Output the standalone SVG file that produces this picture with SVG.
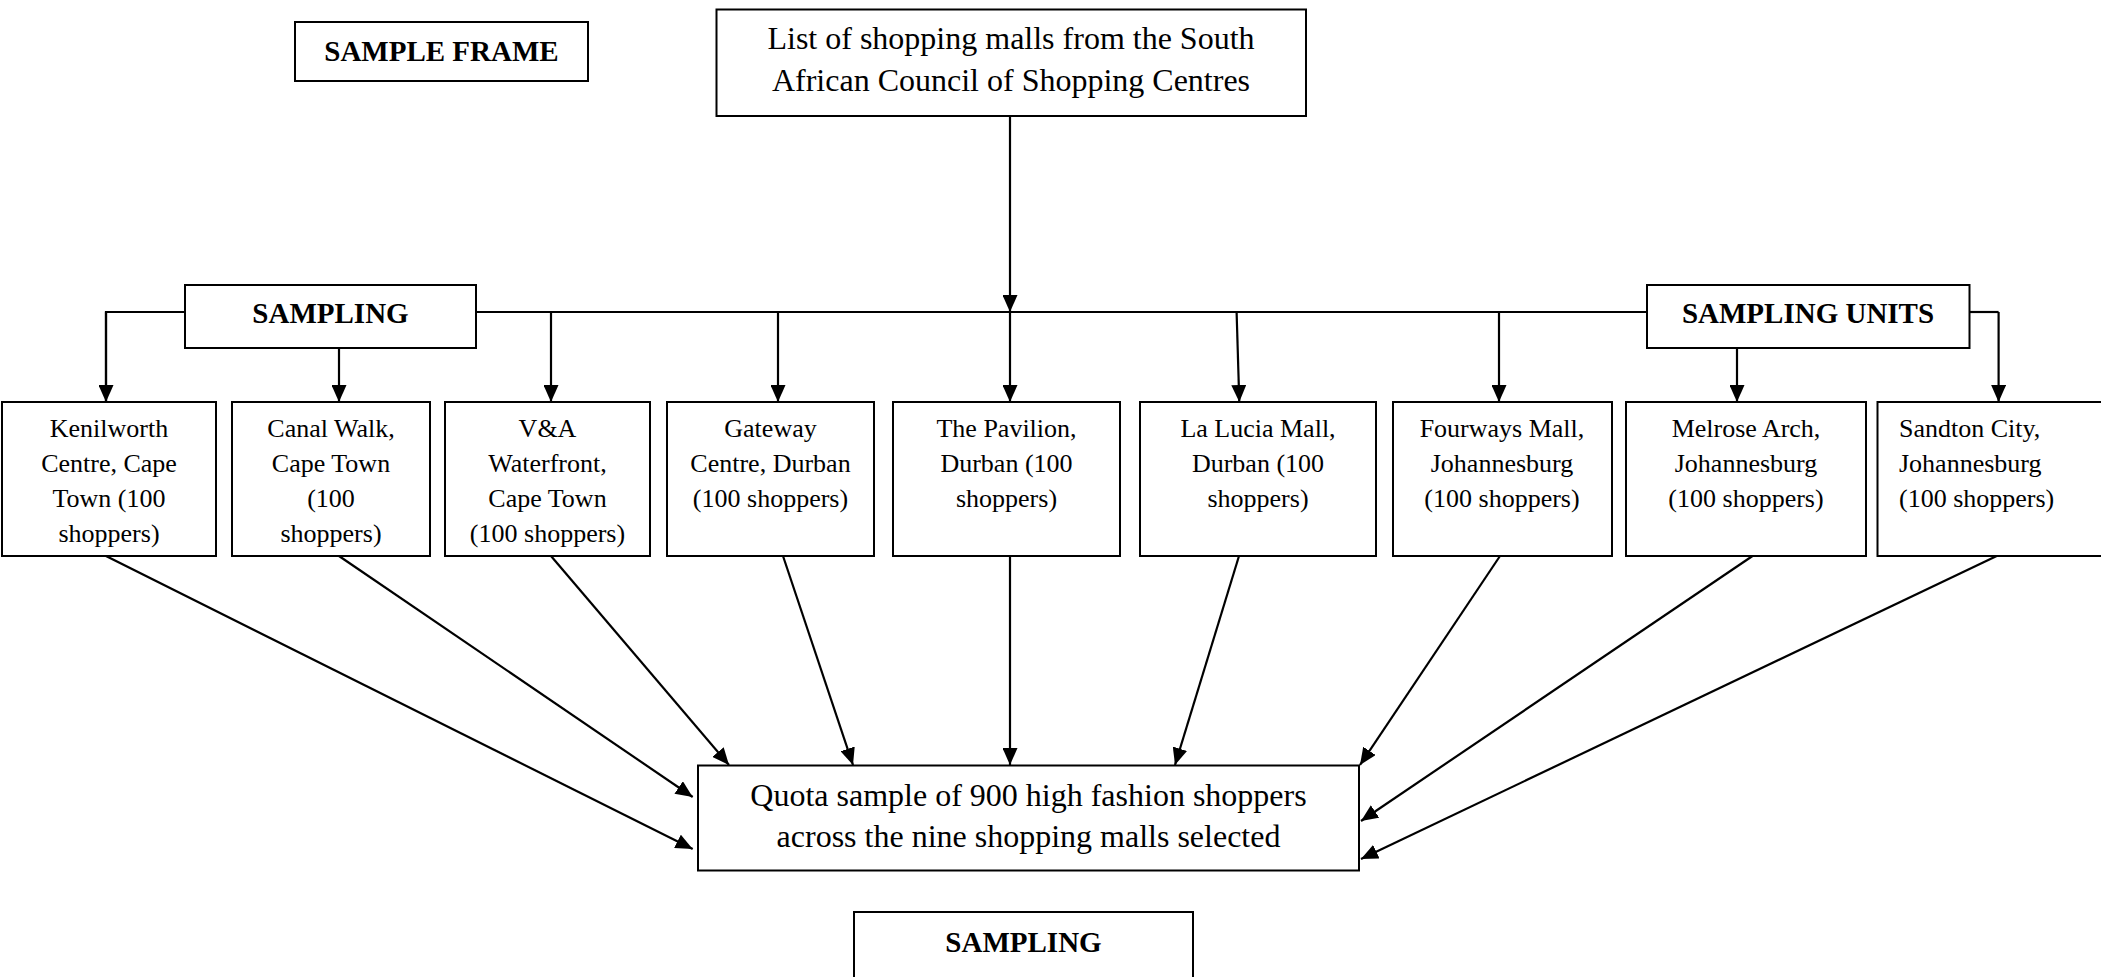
<svg xmlns="http://www.w3.org/2000/svg" width="2101" height="977" viewBox="0 0 2101 977">
<style>
.box{fill:#fff;stroke:#000;stroke-width:2}
.t{font-family:"Liberation Serif","Times New Roman",serif;fill:#000;text-anchor:middle}
.n{font-size:26px}
.big{font-size:32px}
.b{font-size:29px;font-weight:bold}
.c{fill:none;stroke:#000;stroke-width:2.2}
</style>
<defs>
<marker id="ah" markerUnits="userSpaceOnUse" markerWidth="18" markerHeight="15" refX="17" refY="7.5" orient="auto">
<path d="M0,0 L17,7.5 L0,15 z" fill="#000"/>
</marker>
</defs>
<rect width="2101" height="977" fill="#fff"/>

<g id="sample-frame">
<rect class="box" x="295" y="22" width="293" height="59"/>
<text class="t b" x="441.5" y="61">SAMPLE FRAME</text>
</g>
<g id="list">
<rect class="box" x="716.5" y="9.5" width="589.5" height="106.5"/>
<text class="t big" x="1011" y="49">List of shopping malls from the South</text>
<text class="t big" x="1011" y="91">African Council of Shopping Centres</text>
</g>
<g id="sampling-label">
<rect class="box" x="185" y="285" width="291" height="63"/>
<text class="t b" x="330.5" y="323">SAMPLING</text>
</g>
<g id="sampling-units-label">
<rect class="box" x="1647" y="285" width="322.5" height="63"/>
<text class="t b" x="1808" y="323">SAMPLING UNITS</text>
</g>

<g id="kenilworth">
<rect class="box" x="2" y="402" width="214" height="154"/>
<text class="t n" x="109" y="437">Kenilworth</text>
<text class="t n" x="109" y="472">Centre, Cape</text>
<text class="t n" x="109" y="507">Town (100</text>
<text class="t n" x="109" y="542">shoppers)</text>
</g>
<g id="canal-walk">
<rect class="box" x="232" y="402" width="198" height="154"/>
<text class="t n" x="331" y="437">Canal Walk,</text>
<text class="t n" x="331" y="472">Cape Town</text>
<text class="t n" x="331" y="507">(100</text>
<text class="t n" x="331" y="542">shoppers)</text>
</g>
<g id="va-waterfront">
<rect class="box" x="445" y="402" width="205" height="154"/>
<text class="t n" x="547.5" y="437">V&amp;A</text>
<text class="t n" x="547.5" y="472">Waterfront,</text>
<text class="t n" x="547.5" y="507">Cape Town</text>
<text class="t n" x="547.5" y="542">(100 shoppers)</text>
</g>
<g id="gateway">
<rect class="box" x="667" y="402" width="207" height="154"/>
<text class="t n" x="770.5" y="437">Gateway</text>
<text class="t n" x="770.5" y="472">Centre, Durban</text>
<text class="t n" x="770.5" y="507">(100 shoppers)</text>
</g>
<g id="pavilion">
<rect class="box" x="893" y="402" width="227" height="154"/>
<text class="t n" x="1006.5" y="437">The Pavilion,</text>
<text class="t n" x="1006.5" y="472">Durban (100</text>
<text class="t n" x="1006.5" y="507">shoppers)</text>
</g>
<g id="la-lucia">
<rect class="box" x="1140" y="402" width="236" height="154"/>
<text class="t n" x="1258" y="437">La Lucia Mall,</text>
<text class="t n" x="1258" y="472">Durban (100</text>
<text class="t n" x="1258" y="507">shoppers)</text>
</g>
<g id="fourways">
<rect class="box" x="1393" y="402" width="219" height="154"/>
<text class="t n" x="1502" y="437">Fourways Mall,</text>
<text class="t n" x="1502" y="472">Johannesburg</text>
<text class="t n" x="1502" y="507">(100 shoppers)</text>
</g>
<g id="melrose">
<rect class="box" x="1626" y="402" width="240" height="154"/>
<text class="t n" x="1746" y="437">Melrose Arch,</text>
<text class="t n" x="1746" y="472">Johannesburg</text>
<text class="t n" x="1746" y="507">(100 shoppers)</text>
</g>
<g id="sandton">
<rect class="box" x="1877.5" y="402" width="240" height="154"/>
<text class="t n" x="1899" y="437" style="text-anchor:start">Sandton City,</text>
<text class="t n" x="1899" y="472" style="text-anchor:start">Johannesburg</text>
<text class="t n" x="1899" y="507" style="text-anchor:start">(100 shoppers)</text>
</g>

<g id="quota">
<rect class="box" x="698" y="765.5" width="661" height="105"/>
<text class="t big" x="1028.5" y="806">Quota sample of 900 high fashion shoppers</text>
<text class="t big" x="1028.5" y="847">across the nine shopping malls selected</text>
</g>
<g id="sampling-bottom">
<rect class="box" x="854" y="912" width="339" height="80"/>
<text class="t b" x="1023.5" y="952">SAMPLING</text>
</g>

<g id="connectors">
<path class="c" d="M1010,116 V312" marker-end="url(#ah)"/>
<path class="c" d="M106,402 V312 H185"/>
<path class="c" d="M476,312 H1647"/>
<path class="c" d="M1969.5,312 H1998.6"/>
<path class="c" d="M106,312 V402" marker-end="url(#ah)"/>
<path class="c" d="M339,348 V402" marker-end="url(#ah)"/>
<path class="c" d="M551,312 V402" marker-end="url(#ah)"/>
<path class="c" d="M778,312 V402" marker-end="url(#ah)"/>
<path class="c" d="M1010,312 V402" marker-end="url(#ah)"/>
<path class="c" d="M1236.6,312 L1239.3,402" marker-end="url(#ah)"/>
<path class="c" d="M1499,312 V402" marker-end="url(#ah)"/>
<path class="c" d="M1737,348 V402" marker-end="url(#ah)"/>
<path class="c" d="M1998.6,312 V402" marker-end="url(#ah)"/>
<path class="c" d="M106,556 L692.7,849" marker-end="url(#ah)"/>
<path class="c" d="M339,556 L692.7,797" marker-end="url(#ah)"/>
<path class="c" d="M551,556 L729,765" marker-end="url(#ah)"/>
<path class="c" d="M783,556 L853,765" marker-end="url(#ah)"/>
<path class="c" d="M1010,556 V765" marker-end="url(#ah)"/>
<path class="c" d="M1239,556 L1175,765" marker-end="url(#ah)"/>
<path class="c" d="M1500,556 L1360,765" marker-end="url(#ah)"/>
<path class="c" d="M1752.5,556 L1361,821" marker-end="url(#ah)"/>
<path class="c" d="M1996.7,556 L1361,859" marker-end="url(#ah)"/>
</g>
</svg>
